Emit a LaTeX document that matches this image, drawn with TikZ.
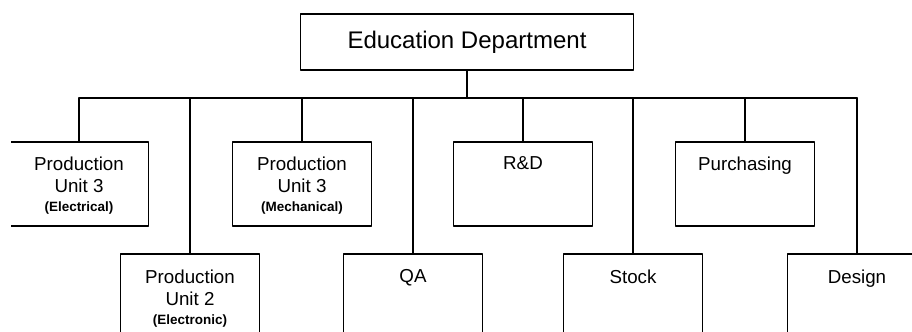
\documentclass[tikz,border=0pt]{standalone}
\usepackage{fontspec}
\setmainfont{Liberation Sans}
\usetikzlibrary{positioning}

\newcommand{\subnote}[1]{{\fontsize{11.5}{12}\selectfont\bfseries #1}}

\begin{document}
\begin{tikzpicture}[line cap=round,line join=round,x=0.03cm,y=-0.03cm,line width=1.5pt,
  topbox/.style={draw,minimum width=9.99cm,minimum height=1.68cm,inner sep=0pt,
    font=\fontsize{20.5}{23}\selectfont},
  upbox/.style={draw,anchor=north,minimum width=4.17cm,minimum height=2.52cm},
  lowbox/.style={draw,anchor=north,minimum width=4.17cm,minimum height=3.3cm},
  txt/.style={align=center,inner sep=0pt,font=\fontsize{16}{19}\selectfont}]
\useasboundingbox (0,0) rectangle (912,332);
\clip (11,0) rectangle (912,332);
% head of the department
\node[topbox] (edu) at (467,42) {Education Department};
\coordinate (bus) at (0,98);
% upper row
\node[upbox] (pu3e) at (79,141) {};
\node[upbox] (pu3m) at (302,141) {};
\node[upbox] (rd) at (523,141) {};
\node[upbox] (purch) at (745,141) {};
% lower row
\node[lowbox] (pu2) at (190,253) {};
\node[lowbox] (qa) at (413,253) {};
\node[lowbox] (stock) at (633,253) {};
\node[lowbox] (design) at (857,253) {};
% labels
\node[txt,below=0.44cm of pu3e.north] (pu3etxt) {Production\\Unit 3\\[-3pt]\subnote{(Electrical)}};
\node[txt,below=0.44cm of pu3m.north] (pu3mtxt) {Production\\Unit 3\\[-3pt]\subnote{(Mechanical)}};
\node[txt,below=0.44cm of rd.north] (rdtxt) {R\&D};
\node[txt,below=0.44cm of purch.north] (purchtxt) {Purchasing};
\node[txt,below=0.48cm of pu2.north] (pu2txt) {Production\\Unit 2\\[-3pt]\subnote{(Electronic)}};
\node[txt,below=0.48cm of qa.north] (qatxt) {QA};
\node[txt,below=0.48cm of stock.north] (stocktxt) {Stock};
\node[txt,below=0.48cm of design.north] (designtxt) {Design};
% connectors
\draw (edu.south) -- (edu.south |- bus);
\draw (pu3e.north |- bus) -- (design.north |- bus);
\foreach \n in {pu3e,pu2,pu3m,qa,rd,stock,purch,design}
\draw (\n.north |- bus) -- (\n.north);
\end{tikzpicture}
\end{document}
